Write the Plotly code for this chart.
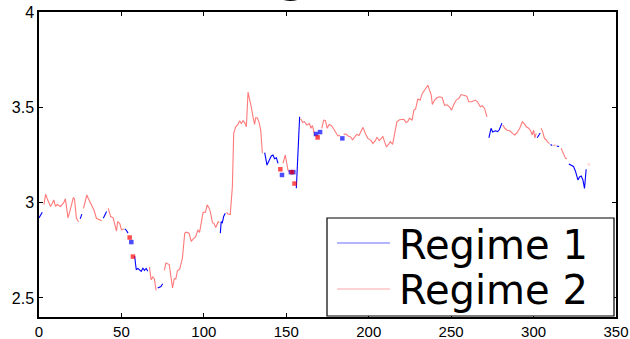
import plotly.graph_objects as go

# ---- data (time index, value, regime) ----
t = [0, 1, 2,
     3, 4, 5, 6, 7, 8, 9, 10, 11, 12, 13, 14, 15, 16, 17.6, 19.5, 20.8, 21.5, 22.7, 24,
     25, 26,
     27, 29, 30, 32, 33.4, 34.8, 36.8, 38,
     39, 40, 41,
     42, 43.5, 45, 46, 47, 47.7, 49, 50, 51.5,
     52, 53, 54,
     55, 56, 57,
     58, 59, 60, 61, 62, 63, 64, 65, 66,
     67, 68, 69, 70, 71,
     72, 73, 74, 75,
     76, 77, 79, 80, 81, 82, 83, 84, 85.3, 87, 88.4, 89.4, 91, 92.4, 93.5, 95, 96.4, 97.4,
     98.5, 99.5, 101, 102, 103, 104, 105.2, 106.2, 107.2, 108.7, 109.3,
     110, 110.5, 111.2, 112, 113,
     113.8, 114.6, 116, 117.3, 118.1, 119.3, 120.7, 121.7, 122.7, 123.8, 124.8, 125.8, 126.8,
     127.8, 128.8, 129.8, 130.8, 131.4, 132.4, 133.4, 134.5, 135.5,
     136.9, 138.3, 139.5, 140.9, 141.9, 142.9, 144, 145,
     146.4, 147.4,
     148, 149.4, 151, 152,
     152.8, 153.5, 154.3, 155,
     156.1, 158.1,
     158.7, 160, 161, 162.5, 164, 165, 165.8, 166.8, 167.4,
     168, 169, 170.5,
     171.5, 172.7, 173.8, 174.8, 176, 177.3, 178.5, 179.9, 181.3, 182.7,
     184,
     184.8, 186.3, 187.5, 189, 190.2, 191.5, 192.7, 194.1, 196.5, 198.1, 199.5, 201.5, 202.5,
     204, 205, 206.4, 208.6, 209.6, 210.7, 212, 213.1, 214.5, 215.7, 217.1, 218.7, 219.9,
     221.3, 222.7, 223.7, 224.7, 226.3, 227.4, 228.4, 229.8, 231.2, 232.5, 233.9, 234.9,
     235.9, 236.9, 237.9, 238.6, 240, 241.4, 243, 244.6, 246, 247.5, 249.2, 250.3, 251.5,
     253.1, 254.7, 256.1, 258.1, 259.5, 260.7, 262.5, 264.5, 266, 267.7, 268.9, 270.3, 271.7,
     272.9, 274.2, 275.2, 276.8, 278.2, 279.2, 280.8,
     281.4, 282.5, 284, 285.6, 287.2, 288.6, 290, 291.6, 293.2, 294.2, 295.6, 297, 298.2,
     299.2, 300, 300.8, 301.6,
     302.2, 303, 304,
     304.6, 305.6, 306.6, 307.6, 308.6, 309.6,
     310.3, 311.3,
     312, 313.3,
     314, 315.5,
     316.7, 318.2, 319.4, 320.3,
     321.4, 322.8, 324.2, 325.4, 326.9, 327.9, 328.9, 329.9, 330.9, 331.9,
     333.5]

price = [2.92, 2.935, 2.95,
         2.99, 3.044, 3.02, 3.0, 2.98, 2.995, 3.014, 2.98, 2.99, 2.985, 2.98, 2.99, 3.0, 3.02, 2.92, 2.98, 3.026, 3.02, 2.918, 2.90,
         2.915, 2.94,
         2.97, 3.04, 3.02, 2.985, 2.96, 2.918, 2.91, 2.905,
         2.918, 2.935, 2.953,
         2.97, 2.927, 2.92, 2.883, 2.85, 2.9, 2.89, 2.857, 2.862,
         2.862, 2.855, 2.84,
         2.817, 2.793, 2.717,
         2.72, 2.648, 2.655, 2.645, 2.639, 2.656, 2.645, 2.655, 2.64,
         2.662, 2.595, 2.61, 2.6, 2.54,
         2.552, 2.555, 2.56, 2.574,
         2.644, 2.683, 2.675, 2.62, 2.552, 2.6, 2.6, 2.644, 2.65, 2.709, 2.84, 2.845, 2.84, 2.796, 2.81, 2.82, 2.857, 2.844,
         2.892, 2.948, 2.95, 2.988, 2.975, 2.95, 2.895, 2.89, 2.87, 2.9, 2.895,
         2.84, 2.9, 2.895, 2.927, 2.944,
         2.95, 2.94, 2.937, 3.084, 3.363, 3.398, 3.41, 3.43, 3.415, 3.43, 3.42, 3.398, 3.58,
         3.543, 3.5, 3.45, 3.41, 3.445, 3.445, 3.424, 3.38, 3.259,
         3.262, 3.197, 3.22, 3.245, 3.25, 3.23, 3.235, 3.206,
         3.175, 3.145,
         3.206, 3.25, 3.171, 3.16,
         3.16, 3.16, 3.16, 3.10,
         3.075, 3.45,
         3.44, 3.42, 3.425, 3.407, 3.415, 3.39, 3.405, 3.372, 3.35,
         3.36, 3.342, 3.37,
         3.39, 3.433, 3.43, 3.39, 3.41, 3.405, 3.39, 3.367, 3.35, 3.352,
         3.337,
         3.358, 3.36, 3.35, 3.345, 3.33, 3.345, 3.358, 3.352, 3.395, 3.36, 3.337, 3.325, 3.31,
         3.325, 3.343, 3.325, 3.346, 3.32, 3.293, 3.305, 3.32, 3.306, 3.372, 3.424, 3.435, 3.437,
         3.437, 3.42, 3.425, 3.442, 3.433, 3.485, 3.49, 3.543, 3.538, 3.573, 3.59, 3.598,
         3.616, 3.59, 3.565, 3.515, 3.538, 3.55, 3.555, 3.55, 3.51, 3.513, 3.5, 3.485, 3.513,
         3.538, 3.547, 3.567, 3.563, 3.558, 3.529, 3.529, 3.538, 3.529, 3.503, 3.508, 3.494, 3.45,
         3.34, 3.39, 3.37, 3.377, 3.373, 3.382, 3.416,
         3.407, 3.39, 3.38, 3.377, 3.363, 3.355, 3.367, 3.39, 3.424, 3.416, 3.398, 3.39, 3.377,
         3.355, 3.38, 3.34, 3.363,
         3.34, 3.35, 3.365,
         3.39, 3.37, 3.337, 3.33, 3.317, 3.31,
         3.305, 3.30,
         3.30, 3.302,
         3.297, 3.294,
         3.285, 3.255, 3.232, 3.23,
         3.203, 3.195, 3.19, 3.165, 3.119, 3.135, 3.14, 3.12, 3.075, 3.175,
         3.2]

regime = [1, 1, 1,
          2, 2, 2, 2, 2, 2, 2, 2, 2, 2, 2, 2, 2, 2, 2, 2, 2, 2, 2, 2,
          1, 1,
          2, 2, 2, 2, 2, 2, 2, 2,
          1, 1, 1,
          2, 2, 2, 2, 2, 2, 2, 2, 2,
          1, 1, 1,
          2, 1, 2,
          1, 1, 1, 1, 1, 1, 1, 1, 1,
          2, 2, 2, 2, 2,
          1, 1, 1, 1,
          2, 2, 2, 2, 2, 2, 2, 2, 2, 2, 2, 2, 2, 2, 2, 2, 2, 2,
          2, 2, 2, 2, 2, 2, 2, 2, 2, 2, 2,
          1, 1, 1, 1, 1,
          2, 2, 2, 2, 2, 2, 2, 2, 2, 2, 2, 2, 2,
          2, 2, 2, 2, 2, 2, 2, 2, 2,
          1, 1, 1, 1, 1, 1, 1, 1,
          2, 1,
          2, 2, 2, 2,
          1, 2, 1, 2,
          1, 1,
          2, 2, 2, 2, 2, 2, 2, 2, 2,
          1, 2, 1,
          2, 2, 2, 2, 2, 2, 2, 2, 2, 2,
          1,
          2, 2, 2, 2, 2, 2, 2, 2, 2, 2, 2, 2, 2,
          2, 2, 2, 2, 2, 2, 2, 2, 2, 2, 2, 2, 2,
          2, 2, 2, 2, 2, 2, 2, 2, 2, 2, 2, 2,
          2, 2, 2, 2, 2, 2, 2, 2, 2, 2, 2, 2, 2,
          2, 2, 2, 2, 2, 2, 2, 2, 2, 2, 2, 2, 2,
          1, 1, 1, 1, 1, 1, 1,
          2, 2, 2, 2, 2, 2, 2, 2, 2, 2, 2, 2, 2,
          2, 2, 2, 2,
          1, 1, 1,
          2, 2, 2, 2, 2, 2,
          1, 1,
          2, 2,
          1, 1,
          2, 2, 2, 2,
          1, 1, 1, 1, 1, 1, 1, 1, 1, 1,
          2]

regime_names = ["Regime 1", "Regime 2"]
x_ticks = [0, 50, 100, 150, 200, 250, 300, 350]
y_ticks = [2.5, 3, 3.5, 4]
y_tick_labels = ["2.5", "3", "3.5", "4"]
title_fragment = "g"

line_colors = {1: "#0000ff", 2: "#ff7a7a"}
dot_colors = {1: "#0000ff", 2: "#ff0000"}

n = len(t)
isolated = []
for i in range(n):
    prev_diff = i == 0 or regime[i - 1] != regime[i]
    next_diff = i == n - 1 or regime[i + 1] != regime[i]
    isolated.append(prev_diff and next_diff)

fig = go.Figure()
for k, name in zip([1, 2], regime_names):
    ys = [v if r == k else None for v, r in zip(price, regime)]
    fig.add_trace(go.Scatter(x=t, y=ys, mode="lines", name=name, showlegend=False,
                             line=dict(color=line_colors[k], width=1.1),
                             connectgaps=False))
for k in [1, 2]:
    idx = [i for i in range(n) if regime[i] == k and isolated[i]]
    fig.add_trace(go.Scatter(
        x=[t[i] for i in idx], y=[price[i] for i in idx], mode="markers", showlegend=False,
        marker=dict(color=[("#ffc8c8" if i == n - 1 else dot_colors[k]) for i in idx],
                    size=[(2.5 if i == n - 1 else 4.5) for i in idx], symbol="square",
                    line=dict(width=0))))

axis_common = dict(showline=True, linecolor="black", linewidth=1.5, mirror="ticks",
                   ticks="inside", ticklen=4, tickcolor="black", showgrid=False,
                   zeroline=False, automargin=False)

L, R, T, B = 39, 14, 12, 22
W, H = 630, 339
pw, ph = W - L - R, H - T - B


def px2x(px):
    return (px - L) / pw


def py2y(py):
    return (H - B - py) / ph


fig.update_layout(
    width=W, height=H,
    margin=dict(l=L, r=R, t=T, b=B, autoexpand=False),
    paper_bgcolor="white", plot_bgcolor="white",
    xaxis=dict(range=[0, 350], tickvals=x_ticks, ticktext=[str(v) for v in x_ticks],
               tickfont=dict(family="Liberation Sans, Arial", size=15, color="black"),
               **axis_common),
    yaxis=dict(range=[2.4, 4], tickvals=y_ticks, ticktext=y_tick_labels,
               tickfont=dict(family="Liberation Sans, Arial", size=16, color="black"),
               **axis_common),
    showlegend=False,
)

# legend box (drawn to match the reference's large legend)
fig.add_shape(type="rect", xref="paper", yref="paper",
              x0=px2x(327), x1=px2x(614), y0=py2y(316), y1=py2y(218),
              fillcolor="white", line=dict(color="black", width=1.2), layer="above")
legend_rows = [(1, 243, 245), (2, 289, 290)]
for (k, ly, ty), name in zip(legend_rows, regime_names):
    fig.add_shape(type="line", xref="paper", yref="paper",
                  x0=px2x(337), x1=px2x(390), y0=py2y(ly), y1=py2y(ly),
                  line=dict(color=("#6a6aff" if k == 1 else "#ffa8a8"), width=1.2), layer="above")
    fig.add_annotation(text=name, xref="paper", yref="paper", x=px2x(397), y=py2y(ty),
                       xanchor="left", yanchor="middle", showarrow=False,
                       font=dict(family="DejaVu Sans", size=40, color="black"))

fig.add_annotation(text=title_fragment, xref="paper", yref="paper", x=px2x(291), y=1.03,
                   xanchor="center", yanchor="bottom", showarrow=False,
                   font=dict(family="Liberation Sans, Arial", size=72, color="black"))

fig.write_html("out.html")
